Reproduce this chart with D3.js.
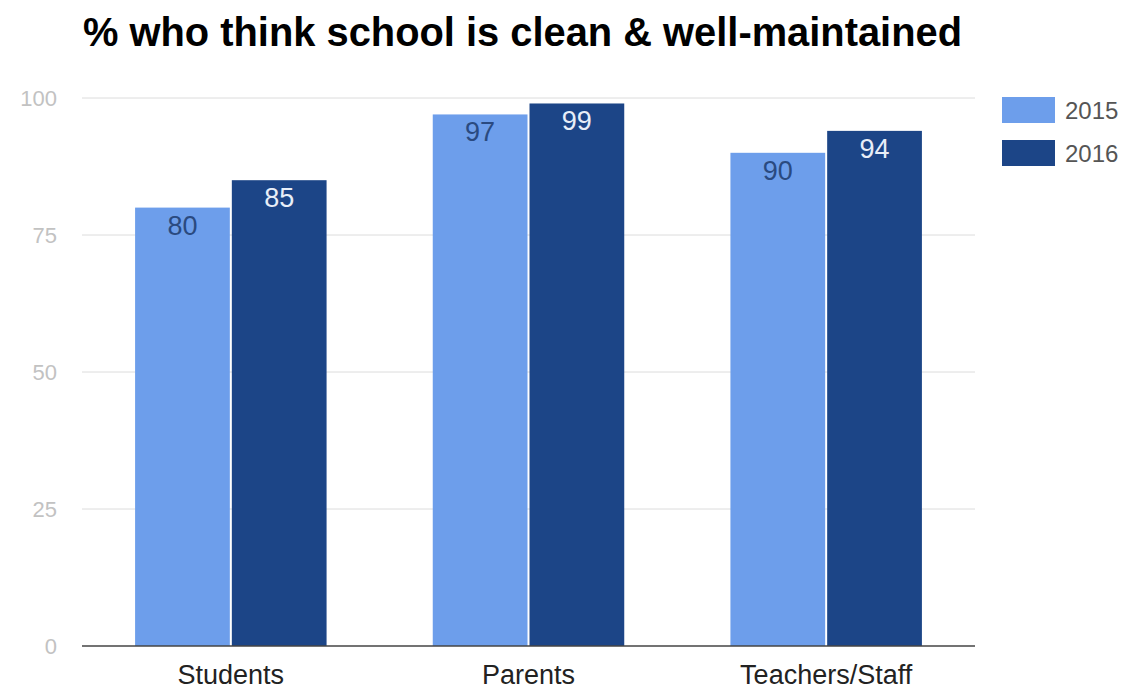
<!DOCTYPE html>
<html>
<head>
    <title>% who think school is clean</title>
    <script src="https://d3js.org/d3.v7.min.js"></script>
    <style>
        body { margin: 0; background: #fff; font-family: "Liberation Sans", Arial, sans-serif; }
    </style>
</head>
<body>
    <svg id="chart" width="1127" height="692"></svg>
    <script>
        // data
        const categories = ['Students', 'Parents', 'Teachers/Staff'];
        const years = ['2015', '2016'];
        const values2015 = [80, 97, 90];
        const values2016 = [85, 99, 94];
        const yTicks = [0, 25, 50, 75, 100];
        const colors = ['#6d9eeb', '#1c4587'];
        const labelColors = ['#2a4a80', '#e8eef8'];

        const svg = d3.select('#chart');
        const margin = { left: 82, right: 152, top: 98, bottom: 46 };
        const width = 1127 - margin.left - margin.right;
        const height = 692 - margin.top - margin.bottom;

        const g = svg.append('g').attr('transform', `translate(${margin.left},${margin.top})`);

        const x = d3.scaleBand().domain(categories).range([0, width]).paddingInner(0.35).paddingOuter(0.175);
        const x1 = d3.scaleBand().domain(years).range([0, x.bandwidth()]).padding(0);
        const y = d3.scaleLinear().domain([0, 100]).range([height, 0]);

        // title
        svg.append('text')
            .attr('x', 83).attr('y', 46)
            .attr('font-size', 40).attr('font-weight', 'bold')
            .attr('fill', '#000')
            .attr('textLength', 879).attr('lengthAdjust', 'spacingAndGlyphs')
            .text('% who think school is clean & well-maintained');

        // gridlines
        g.selectAll('.grid').data(yTicks.filter(d => d > 0)).enter().append('line')
            .attr('x1', 0).attr('x2', width)
            .attr('y1', d => y(d)).attr('y2', d => y(d))
            .attr('stroke', '#dcdcdc').attr('stroke-width', 1);

        // y tick labels
        g.selectAll('.ytick').data(yTicks).enter().append('text')
            .attr('x', -25).attr('y', d => y(d) + 8)
            .attr('text-anchor', 'end')
            .attr('font-size', 22).attr('fill', '#c2c2c2')
            .text(d => d);

        const rows = categories.map((c, i) => ({ cat: c, vals: [values2015[i], values2016[i]] }));

        const groups = g.selectAll('.grp').data(rows).enter().append('g')
            .attr('transform', d => `translate(${x(d.cat)},0)`);

        groups.selectAll('rect').data(d => d.vals.map((v, j) => ({ v, year: years[j], j })))
            .enter().append('rect')
            .attr('x', d => x1(d.year) + 1)
            .attr('width', x1.bandwidth() - 2)
            .attr('y', d => y(d.v))
            .attr('height', d => y(0) - y(d.v))
            .attr('fill', d => colors[d.j]);

        groups.selectAll('.lbl').data(d => d.vals.map((v, j) => ({ v, year: years[j], j })))
            .enter().append('text')
            .attr('x', d => x1(d.year) + x1.bandwidth() / 2)
            .attr('y', d => y(d.v) + 27)
            .attr('text-anchor', 'middle')
            .attr('font-size', 27)
            .attr('fill', d => labelColors[d.j])
            .text(d => d.v);

        // baseline
        g.append('line')
            .attr('x1', 0).attr('x2', width)
            .attr('y1', y(0)).attr('y2', y(0))
            .attr('stroke', '#444').attr('stroke-width', 1.5);

        // category labels
        g.selectAll('.xlbl').data(categories).enter().append('text')
            .attr('x', d => x(d) + x.bandwidth() / 2)
            .attr('y', height + 38)
            .attr('text-anchor', 'middle')
            .attr('font-size', 27).attr('fill', '#222')
            .text(d => d);

        // legend
        const legend = svg.append('g').attr('transform', 'translate(1002,97)');
        years.forEach((yr, i) => {
            legend.append('rect')
                .attr('x', 0).attr('y', i * 43)
                .attr('width', 53).attr('height', 26)
                .attr('fill', colors[i]);
            legend.append('text')
                .attr('x', 63).attr('y', i * 43 + 22)
                .attr('font-size', 24).attr('fill', '#555')
                .text(yr);
        });
    </script>
</body>
</html>
